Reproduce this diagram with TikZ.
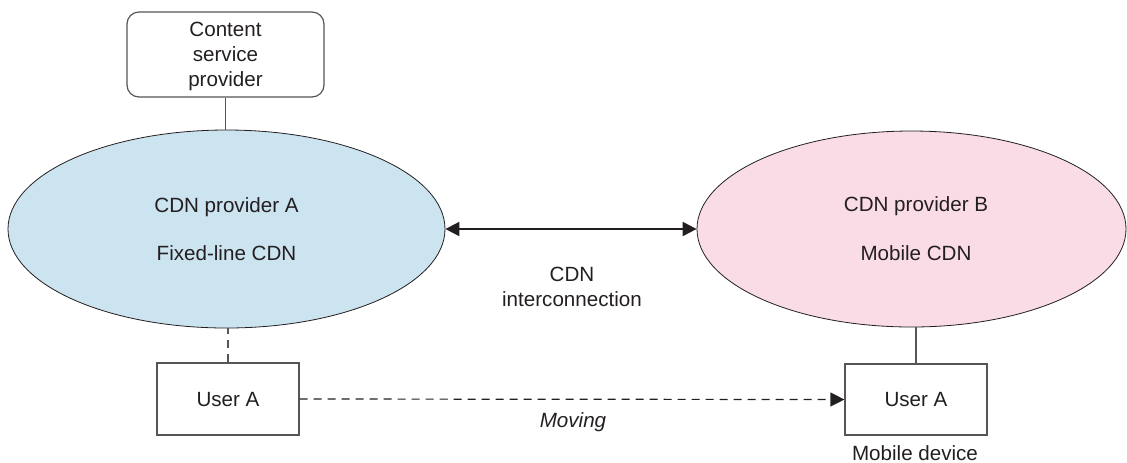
\documentclass[tikz,border=0pt]{standalone}
\usepackage{fontspec}
\setmainfont{Liberation Sans}
\usetikzlibrary{shapes.geometric,arrows.meta}
\definecolor{txt}{HTML}{231F20}
\definecolor{blueA}{HTML}{CCE3F0}
\definecolor{pinkB}{HTML}{FADCE6}
\definecolor{edge}{HTML}{555555}
\begin{document}
\begin{tikzpicture}[x=0.5pt,y=-0.5pt,
  every node/.style={font=\fontsize{10.3}{12.5}\selectfont, text=txt},
  cloud/.style={ellipse, draw=txt, line width=0.4pt, inner sep=0pt},
  boxnode/.style={draw=edge, line width=0.6pt, inner sep=0pt},
  link/.style={draw=edge, line width=0.6pt},
  lbl/.style={inner sep=0pt, align=center}]
\useasboundingbox (0,0) rectangle (1127,462);
% ellipses
\node[cloud, fill=blueA, minimum width=218.5pt, minimum height=99pt] (A) at (226.5,229) {};
\node[cloud, fill=pinkB, minimum width=214.5pt, minimum height=98pt] (B) at (911.5,229) {};
\node[lbl] at (226.5,207) {CDN provider A};
\node[lbl] at (226.5,253) {Fixed-line CDN};
\node[lbl] at (916,206) {CDN provider B};
\node[lbl] at (916,253) {Mobile CDN};
% content service provider
\node[boxnode, rounded corners=6pt, minimum width=98.5pt, minimum height=42.5pt] (csp) at (225.5,54.5) {};
\node[lbl] at (225.5,56) {Content\\service\\provider};
% users
\node[boxnode, minimum width=71pt, minimum height=36pt] (uA) at (228,399) {};
\node[lbl] at (228,399) {User A};
\node[boxnode, minimum width=71pt, minimum height=35.5pt] (uB) at (916,399.5) {};
\node[lbl] at (916,399) {User A};
\node[lbl] (md) at (915,453) {Mobile device};
% connectors
\draw[link] (csp.south) -- (csp.south |- A.north);
\draw[link, dash pattern=on 4pt off 3pt] (uA.north) -- (uA.north |- A.south);
\draw[link] (uB.north) -- (uB.north |- B.south);
\draw[line width=1pt, draw=txt, {Triangle[length=7pt,width=7pt]}-{Triangle[length=7pt,width=7pt]}] (A.east) -- (B.west);
\node[lbl] at (572,287) {CDN\\interconnection};
\draw[link, draw=txt, dash pattern=on 4pt off 3pt, -{Triangle[length=7pt,width=7pt]}] (uA.east) -- (uB.west);
\node[lbl, font=\fontsize{10.3}{12.5}\selectfont\itshape] at (573,422) {Moving};
\end{tikzpicture}
\end{document}
